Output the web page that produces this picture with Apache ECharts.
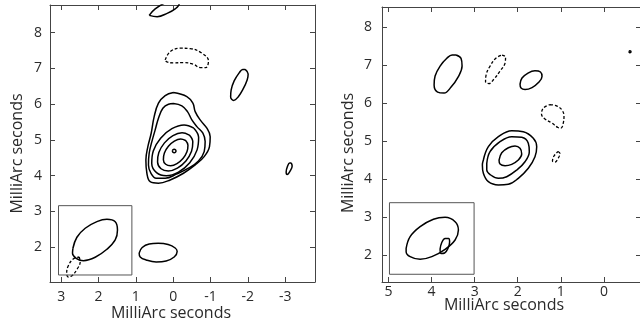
<!DOCTYPE html>
<html><head><meta charset="utf-8">
<script src="https://cdn.jsdelivr.net/npm/echarts@6/dist/echarts.min.js"></script>
<style>html,body{margin:0;padding:0;background:#fff}#c{width:640px;height:321px}</style>
</head><body><div id="c"></div>
<script>
// ---- Left panel: contour paths, [x (mas), y (mas)] ----
const leftTopArc = [[0.643,8.48],[0.429,8.444],[0.161,8.536],[-0.054,8.662],[-0.161,8.80],[-0.08,8.91],[0.214,8.83],[0.482,8.66]];
const leftDashedBlob = [[0.214,7.236],[0.080,7.468],[-0.188,7.563],[-0.455,7.552],[-0.769,7.424],[-0.946,7.208],[-0.876,7.021],[-0.723,7.021],[-0.544,7.116],[-0.276,7.161],[-0.008,7.152],[0.169,7.18]];
const leftEllipseNE = [[-1.929,6.971],[-2.009,6.845],[-1.982,6.677],[-1.875,6.425],[-1.741,6.202],[-1.621,6.104],[-1.540,6.202],[-1.554,6.398],[-1.634,6.649],[-1.768,6.873],[-1.862,6.971]];
const leftSmallE = [[-3.161,4.357],[-3.188,4.273],[-3.134,4.133],[-3.054,4.035],[-3.027,4.105],[-3.067,4.273],[-3.12,4.357]];
const leftBottom = [[0.911,1.841],[0.830,1.994],[0.643,2.092],[0.402,2.112],[0.134,2.078],[-0.054,1.980],[-0.107,1.883],[-0.027,1.729],[0.188,1.617],[0.455,1.589],[0.723,1.645],[0.884,1.729]];
const leftCore1 = [[-0.008,6.322],[-0.367,6.211],[-0.528,6.026],[-0.590,5.791],[-0.724,5.559],[-0.903,5.327],[-0.992,5.092],[-0.973,4.813],[-0.831,4.533],[-0.590,4.301],[-0.276,4.069],[0.080,3.882],[0.394,3.790],[0.616,3.834],[0.704,4.069],[0.731,4.441],[0.678,4.813],[0.589,5.187],[0.509,5.651],[0.394,6.026],[0.214,6.239]];
const leftCore2 = [[-0.008,6.015],[-0.233,5.951],[-0.383,5.791],[-0.501,5.559],[-0.635,5.372],[-0.796,5.187],[-0.857,4.953],[-0.831,4.673],[-0.678,4.413],[-0.410,4.209],[-0.099,4.050],[0.214,3.929],[0.455,3.929],[0.597,4.069],[0.662,4.301],[0.643,4.628],[0.571,4.953],[0.482,5.280],[0.394,5.607],[0.276,5.886],[0.126,5.998]];
const leftCore3 = [[-0.554,5.328],[-0.682,5.074],[-0.641,4.722],[-0.444,4.365],[-0.142,4.101],[0.184,3.999],[0.446,4.086],[0.574,4.340],[0.533,4.692],[0.336,5.049],[0.034,5.313],[-0.292,5.416]];
const leftCore4 = [[-0.433,5.136],[-0.526,4.947],[-0.492,4.683],[-0.341,4.413],[-0.113,4.212],[0.130,4.131],[0.325,4.194],[0.418,4.383],[0.384,4.648],[0.233,4.917],[0.005,5.119],[-0.238,5.199]];
const leftCore5 = [[-0.334,4.983],[-0.396,4.853],[-0.369,4.669],[-0.262,4.480],[-0.102,4.337],[0.067,4.278],[0.200,4.319],[0.262,4.449],[0.235,4.633],[0.128,4.822],[-0.032,4.965],[-0.201,5.024]];
const leftPeak = [[0.021,4.692],[0.007,4.727],[-0.027,4.742],[-0.061,4.727],[-0.075,4.692],[-0.061,4.657],[-0.027,4.642],[0.007,4.657]];
const leftBeam = [[2.686,1.972],[2.579,2.280],[2.357,2.531],[2.044,2.716],[1.776,2.783],[1.553,2.716],[1.492,2.484],[1.553,2.204],[1.776,1.944],[2.089,1.721],[2.403,1.626],[2.598,1.693],[2.697,1.833]];
const leftBeamDashed = [[2.518,1.729],[2.491,1.589],[2.571,1.394],[2.705,1.212],[2.812,1.170],[2.853,1.282],[2.812,1.478],[2.678,1.673]];
const leftInsetBox = [[3.072,3.163],[1.106,3.163],[1.106,1.226],[3.072,1.226]];

// ---- Right panel ----
const rightEllipseA = [[3.431,7.257],[3.315,7.165],[3.292,6.967],[3.385,6.678],[3.547,6.416],[3.709,6.258],[3.860,6.284],[3.941,6.468],[3.918,6.705],[3.802,6.967],[3.640,7.178],[3.524,7.257]];
const rightDashedB = [[2.364,7.257],[2.283,7.204],[2.295,7.046],[2.411,6.836],[2.550,6.626],[2.666,6.508],[2.747,6.547],[2.735,6.731],[2.642,6.967],[2.504,7.178]];
const rightEllipseC = [[1.947,6.494],[1.901,6.652],[1.762,6.783],[1.600,6.844],[1.472,6.810],[1.437,6.691],[1.507,6.547],[1.669,6.402],[1.831,6.350],[1.924,6.389]];
const rightDashedD = [[1.252,5.956],[1.089,5.916],[0.974,5.811],[0.927,5.653],[0.939,5.496],[0.997,5.338],[1.066,5.351],[1.205,5.469],[1.368,5.575],[1.449,5.706],[1.403,5.864]];
const rightDashedE = [[1.066,4.720],[1.020,4.668],[1.066,4.536],[1.136,4.444],[1.194,4.471],[1.159,4.602]];
const rightDot = [[-0.578,7.343],[-0.603,7.371],[-0.628,7.343],[-0.603,7.315]];
const rightCore1 = [[2.798,4.497],[2.682,4.847],[2.450,5.109],[2.140,5.267],[1.871,5.241],[1.639,5.067],[1.560,4.847],[1.600,4.584],[1.755,4.279],[1.987,4.016],[2.219,3.858],[2.450,3.840],[2.682,3.927],[2.798,4.147],[2.821,4.366]];
const rightCore2 = [[2.719,4.410],[2.643,4.715],[2.411,4.978],[2.140,5.109],[1.908,5.093],[1.755,4.936],[1.732,4.715],[1.832,4.452],[2.024,4.234],[2.256,4.058],[2.450,4.016],[2.627,4.103],[2.719,4.234]];
const rightCore3 = [[2.434,4.497],[2.371,4.689],[2.218,4.820],[2.063,4.865],[1.947,4.804],[1.908,4.655],[1.987,4.497],[2.140,4.384],[2.295,4.347],[2.411,4.392]];
const rightBeam = [[4.590,2.176],[4.497,2.481],[4.265,2.744],[3.957,2.939],[3.686,2.991],[3.454,2.875],[3.377,2.657],[3.454,2.395],[3.686,2.150],[3.994,1.956],[4.265,1.887],[4.497,1.956],[4.590,2.087]];
const rightBeamSmall = [[3.802,2.158],[3.767,2.316],[3.686,2.434],[3.605,2.434],[3.581,2.342],[3.616,2.184],[3.697,2.053],[3.779,2.040]];
const rightInsetBox = [[4.977,3.375],[3.013,3.375],[3.013,1.493],[4.977,1.493]];

// axis extents (MilliArc seconds)
const leftX = [-3.8, 3.3], leftY = [1.03, 8.77];
const rightX = [-0.86, 5.15], rightY = [1.29, 8.52];
const axisTitle = 'MilliArc seconds';

// contour list: [path, panel, dashed]
const contours = [
  [leftTopArc,0,false],[leftDashedBlob,0,true],[leftEllipseNE,0,false],[leftSmallE,0,false],
  [leftBottom,0,false],[leftCore1,0,false],[leftCore2,0,false],[leftCore3,0,false],
  [leftCore4,0,false],[leftCore5,0,false],[leftPeak,0,false],[leftBeam,0,false],[leftBeamDashed,0,true],
  [rightEllipseA,1,false],[rightDashedB,1,true],[rightEllipseC,1,false],[rightDashedD,1,true],
  [rightDashedE,1,true],[rightDot,1,false],[rightCore1,1,false],[rightCore2,1,false],[rightCore3,1,false],
  [rightBeam,1,false],[rightBeamSmall,1,false]
];
const boxes = [[leftInsetBox,0],[rightInsetBox,1]];

const FONT = 'Open Sans';
const FRAME = '#444';
const TXT = '#2a2a2a';
function xAx(grid, ext, pos, opts) {
  return Object.assign({
    type:'value', gridIndex:grid, position:pos, min:ext[0], max:ext[1], inverse:true,
    splitNumber:7, minInterval:1, maxInterval:1, nameMoveOverlap:false,
    axisLine:{show:true, onZero:false, lineStyle:{color:FRAME, width:1}},
    axisTick:{show:true, inside:true, length:5, lineStyle:{color:FRAME}},
    splitLine:{show:false},
    axisLabel:{show:pos==='bottom', showMinLabel:false, showMaxLabel:false, color:TXT, fontFamily:FONT, fontSize:14, margin:8}
  }, opts||{});
}
function yAx(grid, ext, pos, opts) {
  return Object.assign({
    type:'value', gridIndex:grid, position:pos, min:ext[0], max:ext[1],
    splitNumber:7, minInterval:1, maxInterval:1, nameMoveOverlap:false,
    axisLine:{show:true, onZero:false, lineStyle:{color:FRAME, width:1}},
    axisTick:{show:true, inside:true, length:5, lineStyle:{color:FRAME}},
    splitLine:{show:false},
    axisLabel:{show:pos==='left', showMinLabel:false, showMaxLabel:false, color:TXT, fontFamily:FONT, fontSize:14, margin:8}
  }, opts||{});
}
const nameStyle = (pad) => ({color:TXT, fontFamily:FONT, fontSize:16, padding:pad});

const xAxis = [
  xAx(0,leftX,'bottom',{name:axisTitle, nameLocation:'middle', nameGap:23, nameTextStyle:nameStyle([0,23,0,0])}),
  xAx(0,leftX,'top'),
  xAx(1,rightX,'bottom',{name:axisTitle, nameLocation:'middle', nameGap:15, nameTextStyle:nameStyle([0,15,0,0]),
     axisLabel:{show:true, showMinLabel:false, showMaxLabel:false, color:TXT, fontFamily:FONT, fontSize:14, margin:3}}),
  xAx(1,rightX,'top')
];
const yAxis = [
  yAx(0,leftY,'left',{name:axisTitle, nameLocation:'middle', nameGap:25, nameTextStyle:nameStyle([0,20,0,0])}),
  yAx(0,leftY,'right'),
  yAx(1,rightY,'left',{name:axisTitle, nameLocation:'middle', nameGap:26, nameTextStyle:nameStyle([0,17,0,0]),
     axisLabel:{show:true, showMinLabel:false, showMaxLabel:false, color:TXT, fontFamily:FONT, fontSize:14, margin:10}}),
  yAx(1,rightY,'right')
];

const series = [];
contours.forEach(([pts, panel, dashed]) => {
  series.push({
    type:'line', xAxisIndex:panel*2, yAxisIndex:panel*2, data:pts.concat([pts[0]]),
    smooth:0.4, symbol:'none', silent:true, clip:true,
    lineStyle:{color:'#000', width:dashed?1.3:1.5, type:dashed?[3,2]:'solid'}
  });
});
boxes.forEach(([pts, panel]) => {
  series.push({
    type:'line', xAxisIndex:panel*2, yAxisIndex:panel*2, data:pts.concat([pts[0]]),
    smooth:false, symbol:'none', silent:true,
    lineStyle:{color:'#555', width:1}
  });
});

const chart = echarts.init(document.getElementById('c'), null, {renderer:'canvas'});
chart.setOption({
  animation:false, backgroundColor:'#fff',
  grid:[{left:50, top:5, width:265, height:277, outerBoundsMode:'none'}, {left:382, top:7, width:259, height:275, outerBoundsMode:'none'}],
  xAxis, yAxis, series
});
</script></body></html>
